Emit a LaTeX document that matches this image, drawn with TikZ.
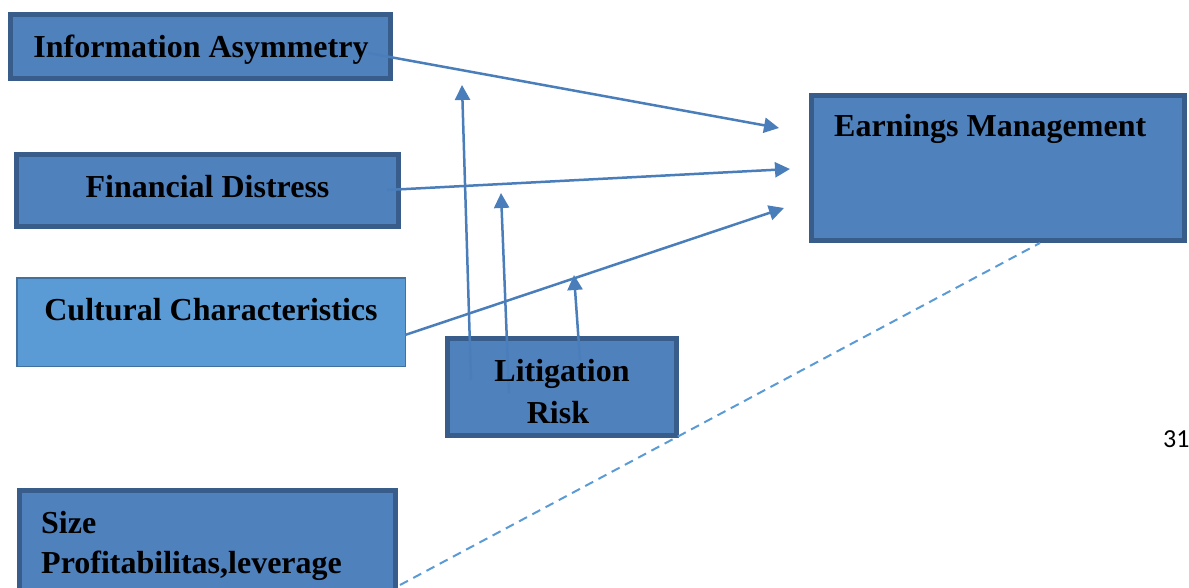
\documentclass[tikz,border=0pt]{standalone}
\usepackage{fontspec}
\setmainfont{Liberation Serif}
\newfontfamily\numfont{Carlito}
\usetikzlibrary{arrows.meta}
\definecolor{boxfill}{HTML}{4F81BD}
\definecolor{boxline}{HTML}{385D8A}
\definecolor{lightfill}{HTML}{5B9BD5}
\definecolor{lightline}{HTML}{41719C}
\definecolor{arrowcol}{HTML}{4A7EBB}
\definecolor{dashcol}{HTML}{5B9BD5}
\tikzset{
  box/.style={draw=boxline, fill=boxfill, line width=5pt, inner sep=0pt, rectangle},
  lightbox/.style={draw=lightline, fill=lightfill, line width=1.5pt, inner sep=0pt, rectangle},
  lbl/.style={anchor=base, inner sep=0pt, font=\fontsize{32}{34}\selectfont\bfseries},
  lbll/.style={anchor=base west, inner sep=0pt, font=\fontsize{32}{34}\selectfont\bfseries},
  conn/.style={draw=arrowcol, line width=2.5pt, -{Triangle[length=15pt,width=15pt]}},
  dashconn/.style={draw=dashcol, line width=2pt, dash pattern=on 9pt off 6pt},
}
\begin{document}
\begin{tikzpicture}[x=1pt,y=-1pt]
\useasboundingbox (0,0) rectangle (1189,587);
% boxes
\node[box, minimum width=380pt, minimum height=64pt] (ia) at (200.5,46.5) {};
\node[box, minimum width=382pt, minimum height=72pt] (fd) at (207.5,190.5) {};
\node[lightbox, minimum width=388.5pt, minimum height=88.5pt] (cc) at (211,322) {};
\node[box, minimum width=229pt, minimum height=97pt] (lr) at (562,387) {};
\node[box, minimum width=373pt, minimum height=145pt] (em) at (998,168) {};
\node[box, minimum width=376pt, minimum height=129.5pt] (sz) at (207.5,555.25) {};
% connector end points
\coordinate (iaout) at (368,53);
\coordinate (iain) at (779,128);
\coordinate (fdout) at (387,190);
\coordinate (fdin) at (790,169);
\coordinate (ccout) at (405,335);
\coordinate (ccin) at (784,208);
\coordinate (lr1) at (471,380);
\coordinate (lr1t) at (462,85);
\coordinate (lr2) at (509,393);
\coordinate (lr2t) at (501,193);
\coordinate (lr3) at (580,360);
\coordinate (lr3t) at (574,275);
\coordinate (szout) at (400,585);
\coordinate (emin) at (1040,243);
% connectors
\draw[conn] (iaout) -- (iain);
\draw[conn] (fdout) -- (fdin);
\draw[conn] (ccout) -- (ccin);
\draw[conn] (lr1) -- (lr1t);
\draw[conn] (lr2) -- (lr2t);
\draw[conn] (lr3) -- (lr3t);
\draw[dashconn] (szout) -- (emin);
% texts
\node[lbl] (tia) at (201,57) {Information Asymmetry};
\node[lbl] (tfd) at (207.5,197) {Financial Distress};
\node[lbl] (tcc) at (211,320) {Cultural Characteristics};
\node[lbl] (tlr1) at (562,381) {Litigation};
\node[lbl] (tlr2) at (558,423) {Risk};
\node[lbll] (tem) at (834,136) {Earnings Management};
\node[lbll] (tsz1) at (41,533) {Size};
\node[lbll] (tsz2) at (41,573) {Profitabilitas,leverage};
\node[anchor=base west, inner sep=0pt, font=\numfont\fontsize{26}{28}\selectfont] (pg) at (1163,447) {31};
\end{tikzpicture}
\end{document}
